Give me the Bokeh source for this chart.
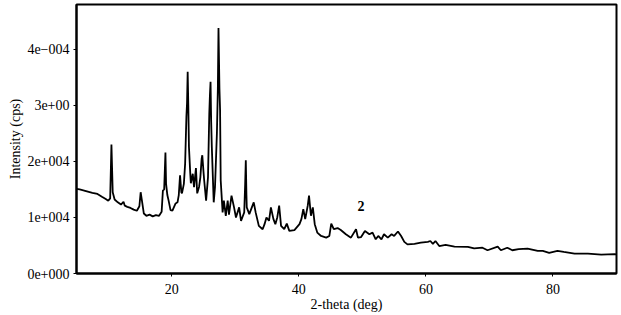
from bokeh.plotting import figure
from bokeh.models import FixedTicker, Range1d, Label
from bokeh.embed import file_html
from bokeh.resources import INLINE

two_theta = [5.0, 5.5, 6.5, 7.5, 8.3, 9.0, 9.6, 10.0, 10.3, 10.5, 10.7, 11.0, 11.5, 12.0, 12.4, 12.6,
             13.0, 13.5, 14.0, 14.5, 14.9, 15.1, 15.3, 15.6, 16.0, 16.5, 17.0, 17.5, 18.0, 18.4, 18.6,
             18.8, 19.0, 19.1, 19.3, 19.5, 19.8, 20.1, 20.6, 20.9, 21.1, 21.3, 21.5, 21.6, 21.9, 22.1,
             22.3, 22.4, 22.5, 22.6, 22.7, 22.9, 23.0, 23.3, 23.5, 23.8, 24.0, 24.3, 24.5, 24.7, 24.8,
             25.0, 25.1, 25.4, 25.7, 25.9, 26.0, 26.1, 26.2, 26.3, 26.6, 26.8, 27.1, 27.25, 27.35, 27.5,
             27.6, 27.7, 28.0, 28.2, 28.5, 28.8, 29.0, 29.4, 29.8, 30.1, 30.6, 30.9, 31.1, 31.4, 31.55,
             31.65, 31.75, 31.8, 32.2, 32.6, 32.9, 33.2, 33.7, 34.3, 34.6, 34.9, 35.3, 35.6, 36.0, 36.3,
             36.6, 36.9, 37.2, 37.7, 38.1, 38.5, 39.3, 40.1, 40.4, 40.7, 41.0, 41.4, 41.6, 41.9, 42.2,
             42.5, 42.9, 43.5, 44.3, 44.8, 45.1, 45.5, 46.1, 46.6, 47.4, 48.2, 49.0, 49.3, 49.8, 50.4,
             51.1, 51.6, 52.1, 52.5, 53.0, 53.4, 54.0, 54.6, 55.0, 55.6, 56.1, 56.6, 57.1, 58.2, 59.2,
             60.3, 60.7, 61.1, 61.5, 62.1, 63.1, 64.5, 66.6, 67.6, 68.9, 69.7, 71.3, 71.8, 72.8, 73.6,
             74.6, 76.0, 77.6, 78.4, 79.4, 80.7, 81.7, 83.4, 85.5, 87.6, 89.7, 90.0]

intensity = [15100, 15000, 14700, 14400, 14200, 13700, 13300, 13000, 13400, 23000, 14500, 13200, 12700,
             12300, 12800, 12100, 11900, 11700, 11400, 11200, 12000, 14500, 13000, 10700, 10300, 10500,
             10200, 10400, 10300, 11000, 14800, 15000, 21600, 16000, 14000, 13000, 11300, 11200, 12500,
             12700, 14000, 17500, 14500, 14300, 16000, 19600, 28000, 30400, 36000, 30000, 22600, 18000,
             16100, 17800, 15400, 18800, 14300, 15500, 17200, 20500, 21100, 18000, 16600, 13000, 17200,
             28500, 31800, 34200, 27000, 22600, 12700, 15400, 25000, 33000, 43800, 33000, 29200, 16600,
             10900, 13000, 10300, 13000, 10500, 13900, 11800, 10000, 11800, 9400, 10000, 10900, 16000,
             20200, 14000, 11800, 10600, 11800, 12700, 10900, 8500, 7900, 8800, 10000, 9400, 11800, 9700,
             8800, 10000, 12100, 8500, 7900, 8900, 7600, 7750, 8800, 9700, 11500, 9700, 12100, 13900,
             10300, 11800, 8800, 7300, 6700, 6400, 6700, 8900, 7900, 8100, 7750, 7000, 6400, 7900, 6400,
             6500, 7600, 7000, 7300, 6100, 6700, 6100, 7000, 6400, 7000, 6700, 7500, 6700, 5650, 5200,
             5300, 5500, 5650, 5800, 5300, 5800, 4900, 5100, 4800, 4750, 4500, 4600, 4150, 4800, 4150,
             4600, 4150, 4350, 4450, 4030, 4030, 3700, 4030, 3850, 3550, 3550, 3370, 3440, 3400]

x_ticks = [20, 40, 60, 80]
y_ticks = [0, 10000, 20000, 30000, 40000]
y_tick_labels = ["0e+000", "1e+004", "2e+004", "3e+00", "4e\u2212004"]
annotation = ("2", 49.8, 12000)

FONT = "Liberation Serif"

p = figure(width=621, height=315, output_backend="svg", toolbar_location=None,
           x_range=Range1d(5, 90), y_range=Range1d(0, 48000),
           min_border_left=76, min_border_right=5, min_border_top=4, min_border_bottom=42)

p.line(two_theta, intensity, line_color="black", line_width=1.8)

p.add_layout(Label(x=annotation[1], y=annotation[2], text=annotation[0],
                   text_font=FONT, text_font_size="14px", text_font_style="bold",
                   text_align="center", text_baseline="middle", text_color="black"))

p.grid.visible = False
p.background_fill_color = "white"
p.border_fill_color = "white"
p.outline_line_color = "black"
p.outline_line_width = 2

p.xaxis.ticker = FixedTicker(ticks=x_ticks)
p.yaxis.ticker = FixedTicker(ticks=y_ticks)
p.yaxis.major_label_overrides = {t: l for t, l in zip(y_ticks, y_tick_labels)}

for ax in (p.xaxis, p.yaxis):
    ax.axis_line_width = 2
    ax.axis_line_color = "black"
    ax.major_tick_out = 3
    ax.major_tick_in = 0
    ax.minor_tick_line_color = None
    ax.major_tick_line_color = "black"
    ax.major_label_text_font = FONT
    ax.major_label_text_font_size = "14px"
    ax.major_label_text_color = "black"
    ax.axis_label_text_font = FONT
    ax.axis_label_text_font_size = "14px"
    ax.axis_label_text_font_style = "normal"
    ax.axis_label_text_color = "black"

p.xaxis.axis_label = "2-theta (deg)"
p.yaxis.axis_label = "Intensity (cps)"
p.xaxis.major_label_standoff = 7
p.xaxis.axis_label_standoff = 0
p.yaxis.major_label_standoff = 4
p.yaxis.axis_label_standoff = 1

open("out.html", "w").write(file_html(p, INLINE))
